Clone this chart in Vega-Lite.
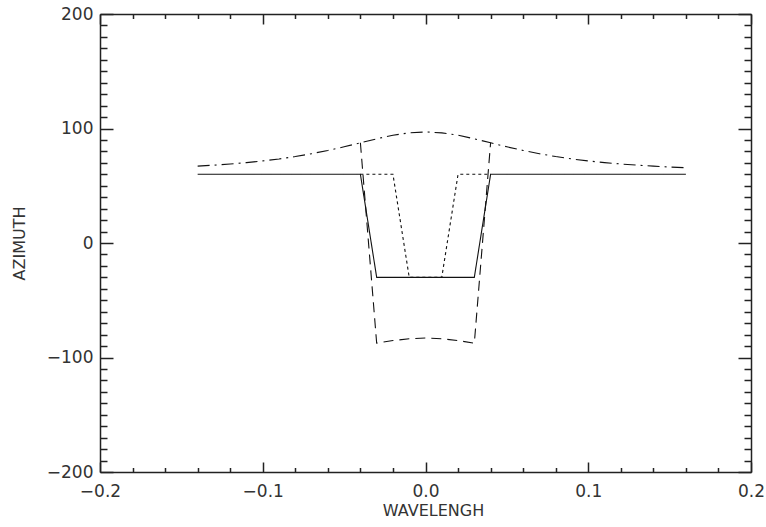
{
  "$schema": "https://vega.github.io/schema/vega-lite/v6.json",
  "width": 651,
  "height": 458,
  "autosize": {"type": "none"},
  "padding": {"left": 100, "top": 14, "right": 15, "bottom": 55},
  "background": "white",
  "view": {"stroke": null},
  "config": {
    "axis": {
      "grid": false,
      "domainColor": "#222",
      "domainWidth": 1.5,
      "tickColor": "#222",
      "tickWidth": 1.5,
      "labelFont": "DejaVu Sans",
      "labelFontSize": 17,
      "labelColor": "#333",
      "labelOverlap": false,
      "labelFlush": false,
      "titleFont": "DejaVu Sans",
      "titleFontSize": 16,
      "titleFontWeight": "normal",
      "titleColor": "#333"
    }
  },
  "data": {
    "values": [
      {"style": "solid", "wavelength": -0.14, "azimuth": 60},
      {"style": "solid", "wavelength": -0.04, "azimuth": 60},
      {"style": "solid", "wavelength": -0.03, "azimuth": -30},
      {"style": "solid", "wavelength": 0.03, "azimuth": -30},
      {"style": "solid", "wavelength": 0.04, "azimuth": 60},
      {"style": "solid", "wavelength": 0.16, "azimuth": 60},

      {"style": "dotted", "wavelength": -0.04, "azimuth": 60},
      {"style": "dotted", "wavelength": -0.02, "azimuth": 60},
      {"style": "dotted", "wavelength": -0.01, "azimuth": -30},
      {"style": "dotted", "wavelength": 0.01, "azimuth": -30},
      {"style": "dotted", "wavelength": 0.02, "azimuth": 60},
      {"style": "dotted", "wavelength": 0.04, "azimuth": 60},

      {"style": "dashed", "wavelength": -0.04, "azimuth": 87.5},
      {"style": "dashed", "wavelength": -0.03, "azimuth": -87.5},
      {"style": "dashed", "wavelength": -0.02, "azimuth": -85.2},
      {"style": "dashed", "wavelength": -0.01, "azimuth": -83.6},
      {"style": "dashed", "wavelength": 0.0, "azimuth": -83.0},
      {"style": "dashed", "wavelength": 0.01, "azimuth": -83.6},
      {"style": "dashed", "wavelength": 0.02, "azimuth": -85.2},
      {"style": "dashed", "wavelength": 0.03, "azimuth": -87.5},
      {"style": "dashed", "wavelength": 0.04, "azimuth": 87.5},

      {"style": "dashdot", "wavelength": -0.14, "azimuth": 67.1},
      {"style": "dashdot", "wavelength": -0.13, "azimuth": 68.0},
      {"style": "dashdot", "wavelength": -0.12, "azimuth": 69.0},
      {"style": "dashdot", "wavelength": -0.11, "azimuth": 70.2},
      {"style": "dashdot", "wavelength": -0.10, "azimuth": 71.7},
      {"style": "dashdot", "wavelength": -0.09, "azimuth": 73.4},
      {"style": "dashdot", "wavelength": -0.08, "azimuth": 75.5},
      {"style": "dashdot", "wavelength": -0.07, "azimuth": 78.0},
      {"style": "dashdot", "wavelength": -0.06, "azimuth": 80.8},
      {"style": "dashdot", "wavelength": -0.05, "azimuth": 84.0},
      {"style": "dashdot", "wavelength": -0.04, "azimuth": 87.5},
      {"style": "dashdot", "wavelength": -0.03, "azimuth": 91.0},
      {"style": "dashdot", "wavelength": -0.02, "azimuth": 94.1},
      {"style": "dashdot", "wavelength": -0.01, "azimuth": 96.2},
      {"style": "dashdot", "wavelength": 0.0, "azimuth": 97.0},
      {"style": "dashdot", "wavelength": 0.01, "azimuth": 96.2},
      {"style": "dashdot", "wavelength": 0.02, "azimuth": 94.1},
      {"style": "dashdot", "wavelength": 0.03, "azimuth": 91.0},
      {"style": "dashdot", "wavelength": 0.04, "azimuth": 87.5},
      {"style": "dashdot", "wavelength": 0.05, "azimuth": 84.0},
      {"style": "dashdot", "wavelength": 0.06, "azimuth": 80.8},
      {"style": "dashdot", "wavelength": 0.07, "azimuth": 78.0},
      {"style": "dashdot", "wavelength": 0.08, "azimuth": 75.5},
      {"style": "dashdot", "wavelength": 0.09, "azimuth": 73.4},
      {"style": "dashdot", "wavelength": 0.10, "azimuth": 71.7},
      {"style": "dashdot", "wavelength": 0.11, "azimuth": 70.2},
      {"style": "dashdot", "wavelength": 0.12, "azimuth": 69.0},
      {"style": "dashdot", "wavelength": 0.13, "azimuth": 68.0},
      {"style": "dashdot", "wavelength": 0.14, "azimuth": 67.1},
      {"style": "dashdot", "wavelength": 0.15, "azimuth": 66.3},
      {"style": "dashdot", "wavelength": 0.16, "azimuth": 65.7}
    ]
  },
  "layer": [
    {
      "mark": {"type": "line", "strokeWidth": 1.1, "color": "#111"},
      "encoding": {
        "x": {
          "field": "wavelength",
          "type": "quantitative",
          "scale": {"domain": [-0.2, 0.2], "nice": false, "zero": false},
          "axis": {
            "orient": "bottom",
            "title": "WAVELENGH",
            "values": [-0.2, -0.18, -0.16, -0.14, -0.12, -0.1, -0.08, -0.06, -0.04, -0.02, 0, 0.02, 0.04, 0.06, 0.08, 0.1, 0.12, 0.14, 0.16, 0.18, 0.2],
            "format": ".1f",
            "labelExpr": "abs(datum.value * 10 - round(datum.value * 10)) < 1e-6 ? datum.label : ''",
            "tickSize": {"condition": {"test": "abs(datum.value * 10 - round(datum.value * 10)) < 1e-6", "value": -10}, "value": -4.5},
            "labelPadding": 21,
            "titleX": 333,
            "titleY": 38,
            "titleAlign": "center",
            "titleBaseline": "middle"
          }
        },
        "y": {
          "field": "azimuth",
          "type": "quantitative",
          "scale": {"domain": [-200, 200], "nice": false, "zero": false},
          "axis": {
            "orient": "left",
            "title": "AZIMUTH",
            "values": [-200, -190, -180, -170, -160, -150, -140, -130, -120, -110, -100, -90, -80, -70, -60, -50, -40, -30, -20, -10, 0, 10, 20, 30, 40, 50, 60, 70, 80, 90, 100, 110, 120, 130, 140, 150, 160, 170, 180, 190, 200],
            "format": "d",
            "labelExpr": "datum.value % 100 === 0 ? datum.label : ''",
            "tickSize": {"condition": {"test": "datum.value % 100 === 0", "value": -13}, "value": -7},
            "labelPadding": 20,
            "titleX": -81,
            "titleY": 229,
            "titleAngle": -90,
            "titleAlign": "center",
            "titleBaseline": "middle"
          }
        },
        "strokeDash": {
          "field": "style",
          "type": "nominal",
          "scale": {
            "domain": ["solid", "dotted", "dashed", "dashdot"],
            "range": [[1, 0], [3, 3], [10, 6], [12, 5, 2, 5]]
          },
          "legend": null
        }
      }
    },
    {
      "mark": {"type": "line", "strokeOpacity": 0},
      "encoding": {
        "x": {
          "field": "wavelength",
          "type": "quantitative",
          "axis": {
            "orient": "top",
            "title": null,
            "labels": false,
            "values": [-0.2, -0.18, -0.16, -0.14, -0.12, -0.1, -0.08, -0.06, -0.04, -0.02, 0, 0.02, 0.04, 0.06, 0.08, 0.1, 0.12, 0.14, 0.16, 0.18, 0.2],
            "tickSize": {"condition": {"test": "abs(datum.value * 10 - round(datum.value * 10)) < 1e-6", "value": -10}, "value": -4.5}
          }
        },
        "y": {
          "field": "azimuth",
          "type": "quantitative",
          "axis": {
            "orient": "right",
            "title": null,
            "labels": false,
            "values": [-200, -190, -180, -170, -160, -150, -140, -130, -120, -110, -100, -90, -80, -70, -60, -50, -40, -30, -20, -10, 0, 10, 20, 30, 40, 50, 60, 70, 80, 90, 100, 110, 120, 130, 140, 150, 160, 170, 180, 190, 200],
            "tickSize": {"condition": {"test": "datum.value % 100 === 0", "value": -13}, "value": -7}
          }
        },
        "detail": {"field": "style"}
      }
    }
  ],
  "resolve": {"axis": {"x": "independent", "y": "independent"}}
}
